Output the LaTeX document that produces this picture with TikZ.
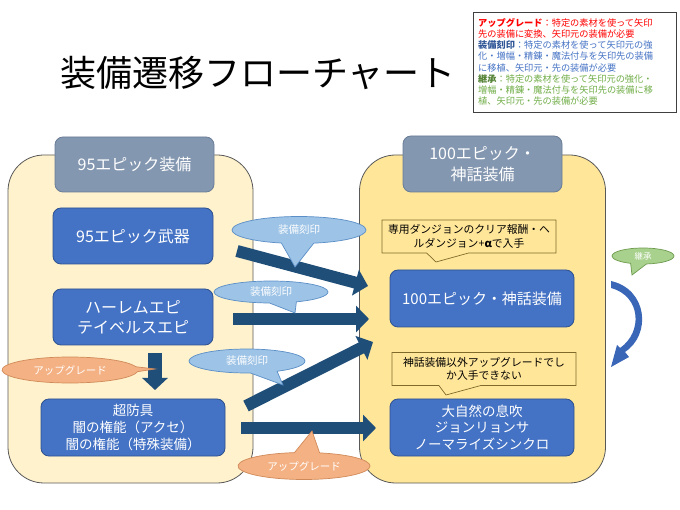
\documentclass[tikz,border=0pt]{standalone}
\usepackage{fontspec}
\setmainfont{Noto Sans CJK JP}
\usetikzlibrary{arrows.meta,shapes.callouts,shapes.geometric}
\definecolor{arrowblue}{HTML}{1F4E79}
\definecolor{boxblue}{HTML}{4472C4}
\definecolor{boxblueline}{HTML}{2F528F}
\definecolor{headgray}{HTML}{8497B0}
\definecolor{headgrayline}{HTML}{6A7D97}
\definecolor{leftfill}{HTML}{FFF2CC}
\definecolor{rightfill}{HTML}{FFE699}
\definecolor{contline}{HTML}{595959}
\definecolor{calloutline}{HTML}{7F6A2A}
\definecolor{kblue}{HTML}{9DC3E6}
\definecolor{kblueline}{HTML}{5B8FC7}
\definecolor{uorange}{HTML}{F4B183}
\definecolor{uorangeline}{HTML}{D08A5A}
\definecolor{kgreen}{HTML}{A9D18E}
\definecolor{kgreenline}{HTML}{6E9C4E}
\definecolor{curveblue}{HTML}{3A66B8}
\definecolor{legred}{HTML}{FF0000}
\definecolor{legblueb}{HTML}{2F5597}
\definecolor{legblue}{HTML}{4472C4}
\definecolor{leggreenb}{HTML}{548235}
\definecolor{leggreen}{HTML}{70AD47}
\newcommand{\fs}[2]{\fontsize{#1pt}{#2pt}\selectfont}
\begin{document}
\begin{tikzpicture}[x=1pt,y=-1pt,
  container/.style={draw=contline, line width=0.8pt, rounded corners=36pt, inner sep=0pt},
  headbox/.style={draw=headgrayline, line width=0.8pt, fill=headgray, rounded corners=8pt, text=white, align=center, inner sep=0pt, minimum width=159pt, font=\fs{16}{21}},
  itembox/.style={draw=boxblueline, line width=0.8pt, fill=boxblue, rounded corners=8pt, text=white, align=center, inner sep=0pt},
  notebox/.style={rectangle callout, draw=calloutline, line width=0.7pt, fill=rightfill, align=center, inner sep=0pt, font=\fs{10.8}{13.3}, callout pointer width=42pt},
  blockarrow/.style={draw=arrowblue, line width=12pt, -{Triangle[length=13pt,width=26pt]}},
  kcallout/.style={ellipse callout, draw=kblueline, line width=0.7pt, fill=kblue, text=white, inner sep=0pt, font=\fs{10.5}{12}, callout pointer arc=28},
  ucallout/.style={ellipse callout, draw=uorangeline, line width=0.7pt, fill=uorange, text=white, inner sep=0pt, font=\fs{10.5}{12}, callout pointer arc=22},
  gcallout/.style={ellipse callout, draw=kgreenline, line width=0.7pt, fill=kgreen, text=white, inner sep=0pt, font=\fs{8.5}{9}, callout pointer arc=30}
]
\useasboundingbox (0,0) rectangle (680,510);
\fill[white] (0,0) rectangle (680,510);

% title
\node[font=\fs{36}{40}, inner sep=0pt] (title) at (258,73) {装備遷移フローチャート};

% legend
\node[draw=black!75, line width=0.9pt, minimum width=203pt, minimum height=100pt, inner sep=0pt] (legend) at (574.5,62) {};
\node[anchor=north west, align=left, inner sep=0pt, font=\fs{9.2}{11.2}] (legendtext) at (478,18) {%
\textcolor{legred}{\bfseries アップグレード}\textcolor{legred}{：特定の素材を使って矢印}\\
\textcolor{legred}{先の装備に変換、矢印元の装備が必要}\\
\textcolor{legblueb}{\bfseries 装備刻印}\textcolor{legblue}{：特定の素材を使って矢印元の強}\\
\textcolor{legblue}{化・増幅・精錬・魔法付与を矢印先の装備}\\
\textcolor{legblue}{に移植、矢印元・先の装備が必要}\\
\textcolor{leggreenb}{\bfseries 継承}\textcolor{leggreen}{：特定の素材を使って矢印元の強化・}\\
\textcolor{leggreen}{増幅・精錬・魔法付与を矢印先の装備に移}\\
\textcolor{leggreen}{植、矢印元・先の装備が必要}};

% containers
\node[container, fill=leftfill, minimum width=245pt, minimum height=328pt] (leftc) at (130.5,319) {};
\node[container, fill=rightfill, minimum width=246pt, minimum height=328pt] (rightc) at (482.5,319) {};

% headers
\node[headbox, minimum height=55pt] (h95) at (134.5,164.5) {95エピック装備};
\node[headbox, minimum height=56pt] (h100) at (482.5,164) {100エピック・\\神話装備};

% left boxes
\node[itembox, minimum width=160pt, minimum height=56pt, font=\fs{16}{20}] (w95) at (133,236) {95エピック武器};
\node[itembox, minimum width=160pt, minimum height=56pt, font=\fs{16}{20}] (harem) at (133,317) {ハーレムエピ\\テイベルスエピ};
\node[itembox, minimum width=184pt, minimum height=57pt, font=\fs{13.5}{16.7}] (super) at (133,427.5) {超防具\\闇の権能（アクセ）\\闇の権能（特殊装備）};

% right boxes
\node[itembox, minimum width=184pt, minimum height=57pt, font=\fs{15}{18}] (e100) at (482,298.5) {100エピック・神話装備};
\node[itembox, minimum width=184pt, minimum height=57pt, font=\fs{13.5}{16.7}] (nature) at (482,427.5) {大自然の息吹\\ジョンリョンサ\\ノーマライズシンクロ};

% notes
\node[notebox, minimum width=174pt, minimum height=33pt, callout absolute pointer={(436,262)}] (note1) at (469,236.5) {専用ダンジョンのクリア報酬・ヘ\\ルダンジョン+\textbf{α}で入手};
\node[notebox, minimum width=184pt, minimum height=33pt, callout absolute pointer={(446,395)}] (note2) at (484,369) {神話装備以外アップグレードでし\\か入手できない};

% block arrows
\coordinate (a1s) at (237,251); \coordinate (a1e) at (368,286);
\coordinate (a2s) at (233,319); \coordinate (a2e) at (369,319);
\coordinate (a3s) at (246,406); \coordinate (a3e) at (373,342);
\coordinate (a4s) at (241,428); \coordinate (a4e) at (376,428);
\coordinate (a5s) at (155,353); \coordinate (a5e) at (155,390);
\draw[blockarrow] (a1s) -- (a1e);
\draw[blockarrow] (a2s) -- (a2e);
\draw[blockarrow] (a3s) -- (a3e);
\draw[blockarrow] (a4s) -- (a4e);
\draw[draw=arrowblue, line width=14pt, -{Triangle[length=12pt,width=25pt]}] (a5s) -- (a5e);

% curved inherit arrow
\fill[curveblue] (611,281) .. controls (647,289) and (652,334) .. (625,352)
  -- (629,357) -- (611,367) -- (617,345) -- (620,348)
  .. controls (643,332) and (641,296) .. (611,288) -- cycle;

% callouts
\node[kcallout, minimum width=134pt, minimum height=27pt, callout absolute pointer={(295,267)}] (k1) at (299,230) {装備刻印};
\node[kcallout, minimum width=114pt, minimum height=22pt, callout absolute pointer={(295,313)}] (k2) at (271,292) {装備刻印};
\node[kcallout, minimum width=116pt, minimum height=24pt, callout absolute pointer={(283,385)}] (k3) at (247,361) {装備刻印};
\node[ucallout, minimum width=136pt, minimum height=26pt, callout absolute pointer={(155,369)}] (u1) at (70,370) {アップグレード};
\node[ucallout, minimum width=132pt, minimum height=27pt, callout absolute pointer={(312,431)}] (u2) at (304,466) {アップグレード};
\node[gcallout, minimum width=62pt, minimum height=16pt, callout absolute pointer={(632,275)}] (g1) at (643,256) {継承};
\end{tikzpicture}
\end{document}
